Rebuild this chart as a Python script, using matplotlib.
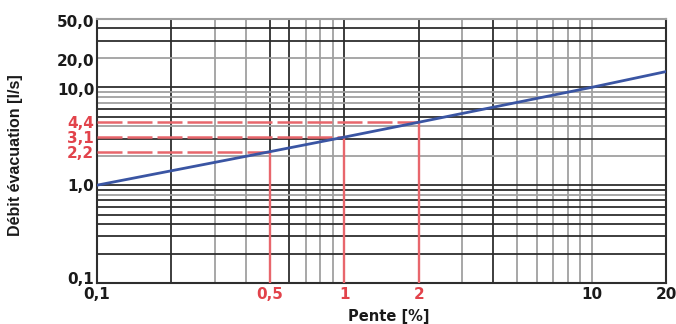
import matplotlib
matplotlib.use("Agg")
import matplotlib.pyplot as plt
import matplotlib.transforms as mtransforms

# ---- data ----
pente = [0.1, 0.5, 1, 2, 10, 20]
debit = [1.0, 2.2, 3.1, 4.4, 10.0, 14.5]

read_pente = [0.5, 1, 2]
read_debit = [2.2, 3.1, 4.4]

xticks = [0.1, 0.5, 1, 2, 10, 20]
xticklabels = ["0,1", "0,5", "1", "2", "10", "20"]
yticks = [0.1, 1, 2.2, 3.1, 4.4, 10, 20, 50]
yticklabels = ["0,1", "1,0", "2,2", "3,1", "4,4", "10,0", "20,0", "50,0"]

xlabel = "Pente [%]"
ylabel = "Débit évacuation [l/s]"

# ---- styles ----
DARK = "#2e2e2e"
GRAY = "#a0a0a0"
RED_LINE = "#e8666c"
RED_TXT = "#e2434b"
BLUE = "#3a55a3"

vgrid = {0.2: DARK, 0.3: GRAY, 0.4: GRAY, 0.5: DARK, 0.6: DARK, 0.7: GRAY,
         0.8: GRAY, 0.9: GRAY, 1: DARK, 2: DARK, 3: GRAY, 4: DARK, 5: GRAY,
         6: GRAY, 7: GRAY, 8: GRAY, 9: GRAY, 10: GRAY}
hgrid = {0.2: DARK, 0.3: DARK, 0.4: DARK, 0.5: DARK, 0.6: DARK, 0.7: DARK,
         0.8: GRAY, 0.9: DARK, 1: DARK, 2: GRAY, 3: DARK, 4: GRAY, 5: DARK,
         6: DARK, 7: GRAY, 8: GRAY, 9: GRAY, 10: DARK, 20: GRAY, 30: DARK,
         40: DARK}

fig = plt.figure(figsize=(6.76, 3.24), dpi=100)
ax = fig.add_axes([97/676, 1-283/324, (666-97)/676, (283-19)/324])
ax.set_xscale("log")
ax.set_yscale("log")
ax.set_xlim(0.1, 20)
ax.set_ylim(0.1, 50)

for v, c in vgrid.items():
    ax.axvline(v, color=c, lw=1.3, zorder=1)
for v, c in hgrid.items():
    ax.axhline(v, color=c, lw=1.3, zorder=1)

# red reading lines
for xp, yd in zip(read_pente, read_debit):
    ax.plot([0.1, xp], [yd, yd], color=RED_LINE, lw=1.8, dashes=(10, 2),
            zorder=3, solid_capstyle="butt")
    ax.plot([xp, xp], [0.1, yd], color=RED_LINE, lw=1.7, zorder=3)

ax.plot(pente, debit, color=BLUE, lw=2.0, zorder=4)

ax.minorticks_off()
ax.set_xticks(xticks)
ax.set_xticklabels(xticklabels)
ax.set_yticks(yticks)
ax.set_yticklabels(yticklabels)
ax.tick_params(length=0, labelsize=11)
ax.tick_params(axis="x", pad=3)
ax.tick_params(axis="y", pad=2)
for lab, v in zip(ax.get_xticklabels(), xticks):
    lab.set_fontweight("bold")
    lab.set_color(RED_TXT if v in read_pente else "#1a1a1a")
for lab, v in zip(ax.get_yticklabels(), yticks):
    lab.set_fontweight("bold")
    lab.set_color(RED_TXT if v in read_debit else "#1a1a1a")
    if v == 0.1:
        lab.set_transform(lab.get_transform() +
                          mtransforms.ScaledTranslation(0, 5/100, fig.dpi_scale_trans))
    elif v in (10, 20, 50):
        lab.set_transform(lab.get_transform() +
                          mtransforms.ScaledTranslation(0, -2/100, fig.dpi_scale_trans))

for s in ["left", "bottom", "right"]:
    ax.spines[s].set_color(DARK)
    ax.spines[s].set_linewidth(1.5)
ax.spines["top"].set_color(GRAY)
ax.spines["top"].set_linewidth(1.5)

fig.text(389/676, 1-316/324, xlabel, ha="center", va="center",
         fontsize=10.5, fontweight="bold", color="#1a1a1a")
fig.text(16/676, 1-155/324, ylabel, ha="center", va="center", rotation=90,
         fontsize=11.5, fontweight="bold", color="#1a1a1a",
         family=["Liberation Sans Narrow", "Liberation Sans", "DejaVu Sans"])

fig.savefig("out.png", dpi=100)
